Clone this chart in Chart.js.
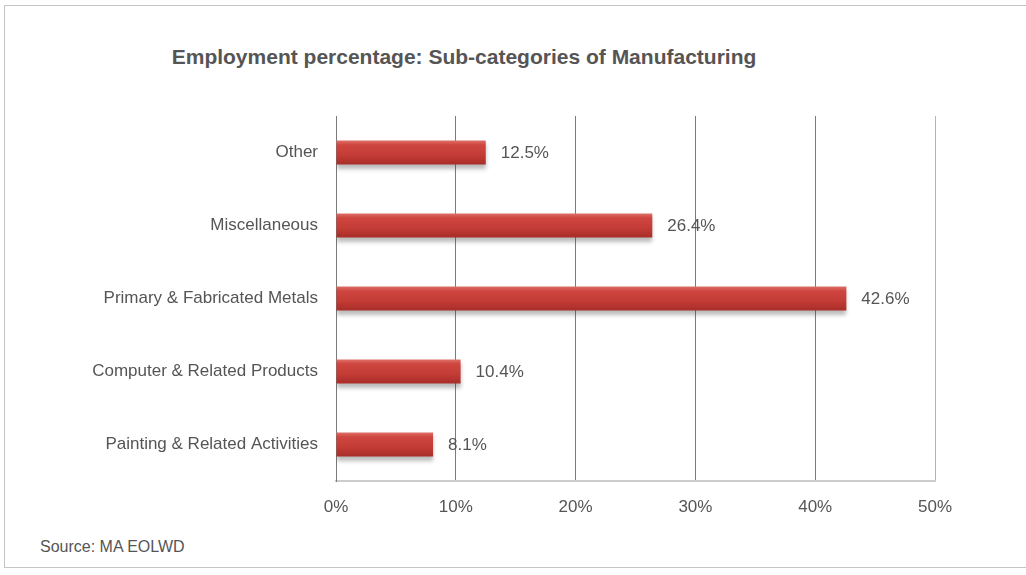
<!DOCTYPE html>
<html>
<head>
<meta charset="utf-8">
<title>Employment percentage: Sub-categories of Manufacturing</title>
<script src="https://cdn.jsdelivr.net/npm/chart.js@4.4.1/dist/chart.umd.min.js"></script>
<style>
  html, body { margin: 0; padding: 0; background: #fff; }
  body { width: 1026px; height: 575px; position: relative; overflow: hidden; }
  .frame {
    position: absolute; left: 4px; top: 5px; width: 1040px; height: 563px;
    border: 1px solid #c4c4c4; box-sizing: border-box;
  }
  .heading {
    position: absolute; left: 0; top: 45px; width: 928px; text-align: center;
    font: bold 21px "Liberation Sans Narrow", "Arial Narrow", "Liberation Sans", sans-serif;
    color: #555;
  }
  .source {
    position: absolute; left: 40px; top: 538px;
    font: 16px "Liberation Sans Narrow", "Arial Narrow", "Liberation Sans", sans-serif;
    color: #555;
  }
  .wrap { position: absolute; left: 0; top: 0; width: 1026px; height: 575px; }
</style>
</head>
<body>
<div class="frame"></div>
<div class="heading">Employment percentage: Sub-categories of Manufacturing</div>
<div class="source">Source: MA EOLWD</div>
<div class="wrap"><canvas id="chart"></canvas></div>
<script>
  // Beschäftigungsanteile in Prozent, von oben nach unten gelesen.
  const categories = [
    'Other',
    'Miscellaneous',
    'Primary & Fabricated Metals',
    'Computer & Related Products',
    'Painting & Related Activities',
  ];
  const shares = [12.5, 26.4, 42.6, 10.4, 8.1];
  const axisTicks = [0, 10, 20, 30, 40, 50];

  const FONT = '"Liberation Sans Narrow", "Arial Narrow", "Liberation Sans", sans-serif';
  const TEXT = '#555555';
  const BAR = '#c63b35';

  // Walzenoptik: oben heller, unten dunkler
  function barFill(context) {
    const chart = context.chart;
    const yScale = chart.scales.y;
    if (!yScale || context.type !== 'data') return BAR;
    const yc = yScale.getPixelForValue(context.dataIndex);
    if (!Number.isFinite(yc)) return BAR;
    const g = chart.ctx.createLinearGradient(0, yc - 12, 0, yc + 12);
    g.addColorStop(0, '#de706a');
    g.addColorStop(0.18, '#cf4640');
    g.addColorStop(0.6, '#c43c36');
    g.addColorStop(1, '#a82d28');
    return g;
  }

  const barShadow = {
    id: 'barShadow',
    beforeDatasetDraw(chart) {
      const ctx = chart.ctx;
      ctx.save();
      ctx.shadowColor = 'rgba(60, 60, 60, 0.35)';
      ctx.shadowBlur = 4;
      ctx.shadowOffsetY = 4;
    },
    afterDatasetDraw(chart) {
      chart.ctx.restore();
    },
  };

  const valueLabels = {
    id: 'valueLabels',
    afterDatasetsDraw(chart) {
      const ctx = chart.ctx;
      const meta = chart.getDatasetMeta(0);
      ctx.save();
      ctx.font = '17px ' + FONT;
      ctx.fillStyle = TEXT;
      ctx.textAlign = 'left';
      ctx.textBaseline = 'middle';
      meta.data.forEach((bar, i) => {
        ctx.fillText(shares[i].toFixed(1) + '%', bar.x + 15, bar.y + 1);
      });
      ctx.restore();
    },
  };

  new Chart(document.getElementById('chart'), {
    type: 'bar',
    data: {
      labels: categories,
      datasets: [{
        data: shares,
        backgroundColor: barFill,
        borderWidth: 0,
        barPercentage: 0.33,
        categoryPercentage: 1,
      }],
    },
    options: {
      indexAxis: 'y',
      responsive: true,
      maintainAspectRatio: false,
      animation: false,
      layout: { padding: { top: 116, right: 91, left: 0, bottom: 0 } },
      plugins: { legend: { display: false }, tooltip: { enabled: false } },
      scales: {
        x: {
          min: 0,
          max: 50,
          afterBuildTicks: (scale) => { scale.ticks = axisTicks.map((v) => ({ value: v })); },
          afterFit: (scale) => { scale.height = 94; },
          grid: {
            drawTicks: false,
            color: (c) => (c.index === axisTicks.length - 1 ? '#b4b4b4' : '#7a7a7a'),
            lineWidth: 1,
          },
          border: { color: '#cccccc', width: 2 },
          ticks: {
            padding: 16,
            color: TEXT,
            font: { family: FONT, size: 17 },
            callback: (v) => v + '%',
          },
        },
        y: {
          afterFit: (scale) => { scale.width = 336; },
          grid: { display: false, drawTicks: false },
          border: { color: '#7a7a7a' },
          ticks: {
            padding: 18,
            color: TEXT,
            font: { family: FONT, size: 17 },
          },
        },
      },
    },
    plugins: [barShadow, valueLabels],
  });
</script>
</body>
</html>
